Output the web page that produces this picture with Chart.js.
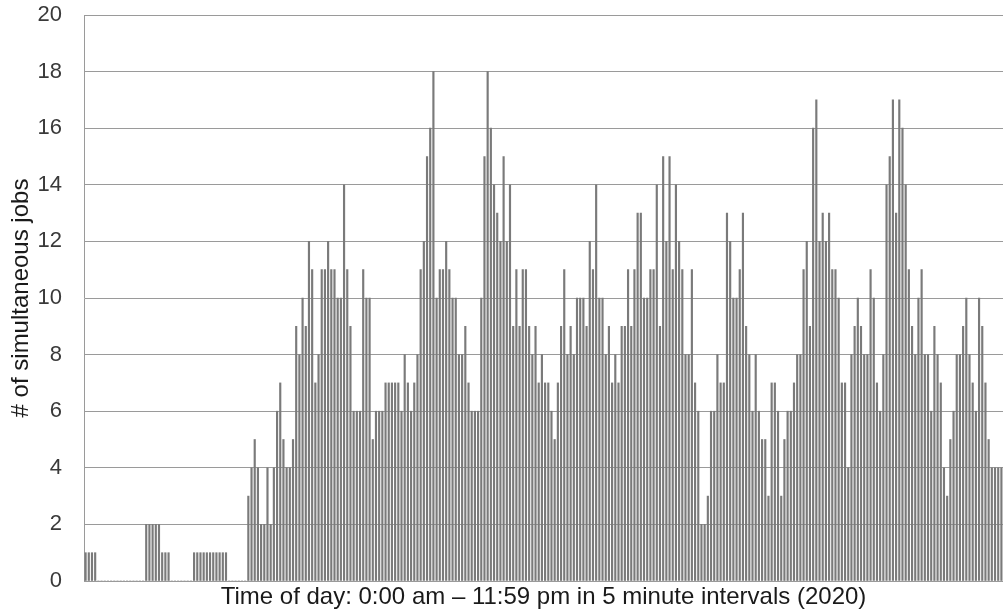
<!DOCTYPE html>
<html>
<head>
<meta charset="utf-8">
<title>Simultaneous jobs</title>
<script src="https://cdn.jsdelivr.net/npm/chart.js@4.4.1/dist/chart.umd.min.js"></script>
<style>
  html, body { margin: 0; padding: 0; background: #fff; }
  #wrap { width: 1003px; height: 614px; }
</style>
</head>
<body>
<div id="wrap"><canvas id="jobsChart" width="1003" height="614"></canvas></div>
<script>
// number of jobs running at once, one value per 5 minute slot (288 slots)
const jobs = [
  1, 1, 1, 1, 0, 0, 0, 0, 0, 0, 0, 0, 0, 0, 0, 0, 0, 0, 0,
  2, 2, 2, 2, 2, 1, 1, 1, 0, 0, 0, 0, 0, 0, 0,
  1, 1, 1, 1, 1, 1, 1, 1, 1, 1, 1, 0, 0, 0, 0, 0, 0,
  3, 4, 5, 4, 2, 2, 4, 2, 4, 6, 7, 5, 4, 4, 5, 9, 8, 10, 9, 12, 11,
  7, 8, 11, 11, 12, 11, 11, 10, 10, 14, 11, 9, 6, 6, 6, 11, 10, 10, 5, 6,
  6, 6, 7, 7, 7, 7, 7, 6, 8, 7, 6, 7, 8, 11, 12, 15, 16, 18, 10, 11, 11, 12, 11,
  10, 10, 8, 8, 9, 7, 6, 6, 6, 10, 15, 18, 16, 14, 13, 12, 15, 12, 14, 9, 11,
  9, 11, 11, 9, 8, 9, 7, 8, 7, 7, 6, 5, 7, 9, 11, 8, 9, 8, 10, 10, 10,
  9, 12, 11, 14, 10, 10, 8, 9, 7, 8, 7, 9, 9, 11, 9, 11, 13, 13, 10, 10, 11,
  11, 14, 9, 15, 12, 15, 11, 14, 12, 11, 8, 8, 11, 7, 6, 2, 2, 3, 6, 6, 8,
  7, 7, 13, 12, 10, 10, 11, 13, 9, 8, 6, 8, 6, 5, 5, 3, 7, 7, 6, 3, 5,
  6, 6, 7, 8, 8, 11, 12, 9, 16, 17, 12, 13, 12, 13, 11, 11, 10, 7, 7, 4, 8,
  9, 10, 9, 8, 8, 11, 10, 7, 6, 8, 14, 15, 17, 13, 17, 16, 14, 11, 9, 8, 10,
  11, 8, 8, 6, 9, 8, 7, 4, 3, 5, 6, 8, 8, 9, 10, 8, 7, 6, 10, 9, 7, 5, 4, 4, 4, 4
];

// slot labels 0:00, 0:05 ... 23:55 (not shown on the axis)
const slots = [];
for (let h = 0; h < 24; h++) {
  for (let m = 0; m < 60; m += 5) {
    slots.push(h + ':' + (m < 10 ? '0' : '') + m);
  }
}

const yMin = 0;
const yMax = 20;
const yStep = 2;
const xTitle = 'Time of day: 0:00 am \u2013 11:59 pm in 5 minute intervals (2020)';
const yTitle = '# of simultaneous jobs';

Chart.defaults.font.family = '"Liberation Sans", Arial, sans-serif';

const ctx = document.getElementById('jobsChart').getContext('2d');
new Chart(ctx, {
  type: 'bar',
  data: {
    labels: slots,
    datasets: [{
      label: 'jobs',
      data: jobs,
      backgroundColor: '#7a7a7a',
      borderWidth: 0,
      barThickness: 1.5
    }]
  },
  options: {
    responsive: false,
    animation: false,
    devicePixelRatio: 1,
    layout: { padding: { top: 15, right: 0, bottom: 0, left: 0 } },
    plugins: {
      legend: { display: false },
      tooltip: { enabled: false }
    },
    scales: {
      x: {
        grid: { display: false },
        border: { display: false },
        ticks: { display: false },
        title: {
          display: true,
          text: xTitle,
          color: '#1a1a1a',
          font: { size: 24 },
          padding: { top: 0, bottom: 2 }
        },
        afterFit: function (scale) { scale.height = 33; }
      },
      y: {
        min: yMin,
        max: yMax,
        grid: { color: '#9a9a9a', drawTicks: false },
        border: { display: true, color: '#9a9a9a' },
        ticks: {
          stepSize: yStep,
          color: '#3a3a3a',
          padding: 22,
          font: { size: 22 }
        },
        title: {
          display: true,
          text: yTitle,
          color: '#1a1a1a',
          font: { size: 24 },
          padding: { top: 7, bottom: 0 }
        },
        afterFit: function (scale) {
          // keep the tick padding from pushing the plot area down
          scale.width = 84;
          scale.paddingTop = 0;
          scale.paddingBottom = 0;
        }
      }
    }
  }
});
</script>
</body>
</html>
